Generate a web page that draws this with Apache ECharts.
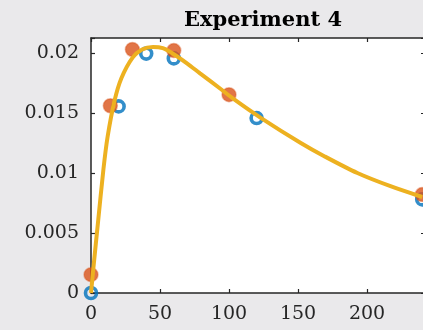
<!DOCTYPE html>
<html>
<head>
<meta charset="utf-8">
<style>
  html, body { margin: 0; padding: 0; background: #eae9eb; }
  #chart { width: 423px; height: 330px; }
</style>
<script src="https://cdn.jsdelivr.net/npm/echarts@6/dist/echarts.min.js"></script>
</head>
<body>
<div id="chart"></div>
<script>
// Measured samples (open circles)
const blueTime = [0, 20, 40, 60, 120, 240];
const blueConc = [0, 0.01555, 0.01995, 0.01955, 0.01458, 0.0078];

// Second measured set (filled markers)
const orangeTime = [0, 14, 30, 60, 100, 240];
const orangeConc = [0.00153, 0.0156, 0.0203, 0.0202, 0.01653, 0.0082];

// Fitted concentration curve
const fitTime = [0, 2, 5, 9, 12, 17, 22, 30, 37, 45, 52, 60, 70, 79, 94, 103, 123, 152, 169, 193, 217, 240];
const fitConc = [0, 0.0024, 0.0058, 0.0103, 0.0130, 0.0160, 0.0179, 0.0196, 0.0203, 0.0205, 0.0204, 0.0199, 0.0191, 0.0183, 0.0170, 0.0162, 0.0146, 0.0125, 0.0114, 0.0100, 0.0089, 0.0080];

// Tick labels
const xTicks = [0, 50, 100, 150, 200];
const yTicks = [0, 0.005, 0.01, 0.015, 0.02];

const zip = (a, b) => a.map((v, i) => [v, b[i]]);

const AXIS_COLOR = '#262626';
const FONT = 'DejaVu Serif';

function tickLabel(list) {
  return function (v) {
    for (const t of list) {
      if (Math.abs(v - t) < 1e-9) return String(t);
    }
    return '';
  };
}

const xBase = {
  type: 'value', min: 0, max: 242, interval: 50,
  axisLine: { show: true, onZero: false, lineStyle: { color: AXIS_COLOR, width: 1.5 } },
  axisTick: { show: true, inside: true, length: 4, lineStyle: { color: AXIS_COLOR, width: 1.2 } },
  splitLine: { show: false }
};
const yBase = {
  type: 'value', min: 0, max: 0.02125, interval: 0.005,
  axisLine: { show: true, onZero: false, lineStyle: { color: AXIS_COLOR, width: 1.5 } },
  axisTick: { show: true, inside: true, length: 4, lineStyle: { color: AXIS_COLOR, width: 1.2 } },
  splitLine: { show: false }
};

const chart = echarts.init(document.getElementById('chart'), null, { renderer: 'canvas' });
chart.setOption({
  backgroundColor: '#eae9eb',
  animation: false,
  title: {
    text: 'Experiment 4',
    left: 258, top: 5, textAlign: 'center',
    textStyle: { fontFamily: FONT, fontWeight: 'bold', fontSize: 21, color: '#000' }
  },
  grid: {
    left: 91, top: 38, width: 334, height: 255,
    containLabel: false, outerBoundsMode: 'none',
    backgroundColor: '#ffffff', show: true, borderWidth: 0
  },
  xAxis: [
    Object.assign({}, xBase, {
      position: 'bottom',
      axisLabel: { show: true, margin: 12, color: AXIS_COLOR, fontFamily: FONT, fontSize: 19, formatter: tickLabel(xTicks) }
    }),
    Object.assign({}, xBase, { position: 'top', axisLabel: { show: false } })
  ],
  yAxis: [
    Object.assign({}, yBase, {
      position: 'left',
      axisLabel: { show: true, margin: 12, color: AXIS_COLOR, fontFamily: FONT, fontSize: 19, formatter: tickLabel(yTicks) }
    }),
    Object.assign({}, yBase, { position: 'right', axisLabel: { show: false } })
  ],
  series: [
    {
      type: 'scatter', xAxisIndex: 0, yAxisIndex: 0,
      data: zip(blueTime, blueConc),
      symbol: 'circle', symbolSize: 11,
      itemStyle: { color: 'rgba(255,255,255,0)', borderColor: '#0072BD', borderWidth: 3.6 },
      z: 2
    },
    {
      type: 'scatter', xAxisIndex: 0, yAxisIndex: 0,
      data: zip(orangeTime, orangeConc),
      symbol: 'circle', symbolSize: 14,
      itemStyle: { color: '#D95319', borderColor: 'rgba(217,83,25,0.5)', borderWidth: 1.5 },
      z: 3
    },
    {
      type: 'line', xAxisIndex: 0, yAxisIndex: 0,
      data: zip(fitTime, fitConc),
      showSymbol: false, smooth: 0.3,
      lineStyle: { color: '#EDB120', width: 4 },
      z: 4
    }
  ]
});
</script>
</body>
</html>
